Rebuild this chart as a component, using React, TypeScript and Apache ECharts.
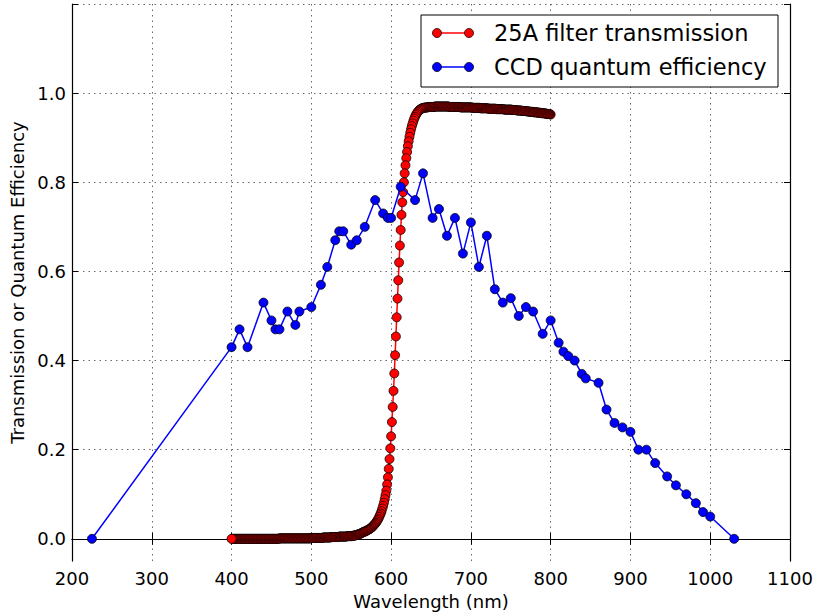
import React, { useEffect, useRef } from "react";
import * as echarts from "echarts";

// CCD quantum efficiency samples (wavelength in nm, QE fraction)
const QE_WAVELENGTHS = [
  225, 400, 410, 420, 440, 450, 455, 460, 470, 480,
  485, 500, 512, 520, 530, 535, 540, 550, 557, 567,
  580, 590, 596, 600, 612, 630, 640, 652, 660, 670,
  680, 690, 700, 710, 720, 730, 740, 750, 760, 769,
  778, 790, 800, 810, 816, 822, 830, 839, 844, 860,
  870, 880, 890, 900, 910, 920, 931, 946, 957, 970,
  982, 991, 1000, 1030,
];
const QE_VALUES = [
  0, 0.43, 0.47, 0.43, 0.53, 0.49, 0.47, 0.47, 0.51, 0.48,
  0.51, 0.52, 0.57, 0.61, 0.67, 0.69, 0.69, 0.66, 0.67, 0.7,
  0.76, 0.73, 0.72, 0.72, 0.79, 0.76, 0.82, 0.72, 0.74, 0.68,
  0.72, 0.64, 0.71, 0.61, 0.68, 0.56, 0.53, 0.54, 0.5, 0.52,
  0.51, 0.46, 0.49, 0.44, 0.42, 0.41, 0.4, 0.37, 0.36, 0.35,
  0.29, 0.26, 0.25, 0.24, 0.2, 0.2, 0.17, 0.14, 0.12, 0.1,
  0.08, 0.06, 0.05, 0,
];

// 25A filter transmission, sampled every 1 nm starting at 400 nm
const FILTER_START_NM = 400;
const FILTER_STEP_NM = 1;
const FILTER_TRANSMISSION = [
  // 400
  0, 0, 0, 0, 0, 0, 0, 0, 0, 0,
  0, 0, 0, 0, 0, 0, 0, 0, 0, 0,
  0, 0, 0, 0, 0, 0, 0, 0, 0, 0,
  0, 0, 0, 0, 0, 0, 0, 0, 0, 0,
  0, 0, 0, 0, 0, 0, 0, 0, 0, 0,
  0, 0, 0, 0, 0, 0, 0, 0, 0, 0,
  // 460
  0.001, 0.001, 0.001, 0.001, 0.001, 0.001, 0.001, 0.001, 0.001, 0.001,
  0.001, 0.001, 0.001, 0.001, 0.001, 0.001, 0.001, 0.001, 0.001, 0.001,
  0.001, 0.001, 0.001, 0.001, 0.001, 0.001, 0.001, 0.001, 0.001, 0.001,
  0.001, 0.001, 0.001, 0.001, 0.001, 0.001, 0.001, 0.001, 0.001, 0.001,
  // 500
  0.002, 0.002, 0.002, 0.002, 0.002, 0.002, 0.002, 0.002, 0.002, 0.002,
  0.002, 0.002, 0.002, 0.002, 0.002, 0.003, 0.003, 0.003, 0.003, 0.003,
  0.003, 0.003, 0.003, 0.003, 0.003, 0.004, 0.004, 0.004, 0.004, 0.004,
  0.004, 0.004, 0.004, 0.004, 0.004, 0.005, 0.005, 0.005, 0.005, 0.005,
  0.005, 0.005, 0.005, 0.005, 0.005, 0.006, 0.006, 0.006, 0.006, 0.006,
  // 550
  0.006, 0.006, 0.007, 0.007, 0.007, 0.008, 0.008, 0.009, 0.009, 0.01,
  0.011, 0.011, 0.012, 0.013, 0.014, 0.015, 0.016, 0.016, 0.017, 0.018,
  0.019, 0.02, 0.021, 0.022, 0.023, 0.025, 0.026, 0.028, 0.03, 0.032,
  0.034, 0.036, 0.039, 0.042, 0.045, 0.049, 0.053, 0.057, 0.062, 0.068,
  0.074, 0.081, 0.089, 0.098, 0.108, 0.122, 0.138, 0.157, 0.179, 0.203,
  // 600
  0.23, 0.262, 0.296, 0.332, 0.371, 0.412, 0.454, 0.497, 0.539, 0.58,
  0.62, 0.658, 0.693, 0.727, 0.755, 0.778, 0.8, 0.82, 0.838, 0.854,
  0.868, 0.881, 0.892, 0.902, 0.911, 0.919, 0.926, 0.932, 0.938, 0.943,
  0.947, 0.951, 0.954, 0.957, 0.959, 0.961, 0.963, 0.964, 0.965, 0.966,
  0.967, 0.967, 0.967, 0.968, 0.968, 0.968, 0.968, 0.969, 0.969, 0.969,
  // 650
  0.969, 0.969, 0.969, 0.969, 0.969, 0.97, 0.97, 0.97, 0.97, 0.97,
  0.97, 0.97, 0.97, 0.97, 0.97, 0.97, 0.97, 0.97, 0.97, 0.97,
  0.97, 0.97, 0.97, 0.969, 0.969, 0.969, 0.969, 0.969, 0.969, 0.969,
  0.969, 0.969, 0.969, 0.969, 0.969, 0.969, 0.969, 0.968, 0.968, 0.968,
  0.968, 0.968, 0.968, 0.968, 0.968, 0.968, 0.968, 0.968, 0.968, 0.968,
  // 700
  0.968, 0.968, 0.967, 0.967, 0.967, 0.967, 0.967, 0.967, 0.967, 0.967,
  0.967, 0.967, 0.966, 0.966, 0.966, 0.966, 0.966, 0.966, 0.966, 0.966,
  0.966, 0.966, 0.965, 0.965, 0.965, 0.965, 0.965, 0.965, 0.965, 0.965,
  0.965, 0.965, 0.964, 0.964, 0.964, 0.964, 0.964, 0.964, 0.964, 0.964,
  0.964, 0.964, 0.963, 0.963, 0.963, 0.963, 0.963, 0.963, 0.963, 0.963,
  // 750
  0.963, 0.963, 0.962, 0.962, 0.962, 0.962, 0.962, 0.962, 0.961, 0.961,
  0.961, 0.961, 0.961, 0.961, 0.96, 0.96, 0.96, 0.96, 0.96, 0.96,
  0.959, 0.959, 0.959, 0.959, 0.958, 0.958, 0.958, 0.958, 0.958, 0.957,
  0.957, 0.957, 0.957, 0.957, 0.956, 0.956, 0.956, 0.956, 0.955, 0.955,
  0.955, 0.955, 0.955, 0.954, 0.954, 0.954, 0.953, 0.953, 0.953, 0.953,
  // 800
  0.952,
];

const X_MIN = 200;
const X_MAX = 1100;
const X_STEP = 100;
const Y_MIN = -0.05;
const Y_MAX = 1.2;
const Y_TICKS = [0, 0.2, 0.4, 0.6, 0.8, 1.0, 1.2];
const Y_LABELS = [0, 0.2, 0.4, 0.6, 0.8, 1.0];

const FILTER_NAME = "25A filter transmission";
const QE_NAME = "CCD quantum efficiency";
const X_TITLE = "Wavelength (nm)";
const Y_TITLE = "Transmission or Quantum Efficiency";

const FONT = "DejaVu Sans";
const RED = "#ff0000";
const BLUE = "#0000ff";

export default function App() {
  const ref = useRef<HTMLDivElement>(null);

  useEffect(() => {
    document.body.style.margin = "0";
    const chart = echarts.init(ref.current!, null, { renderer: "svg" });

    // filter curve is stroked from the long-wavelength end back to 400 nm
    const filterData = FILTER_TRANSMISSION.map((v, i) => [
      FILTER_START_NM + i * FILTER_STEP_NM,
      v,
    ]).reverse();
    const qeData = QE_WAVELENGTHS.map((w, i) => [w, QE_VALUES[i]]);

    const gridLine = {
      show: true,
      lineStyle: { color: "#444", width: 0.8, type: [1.5, 4] as any },
    };
    const frameLine = { show: true, lineStyle: { color: "#000", width: 1.2 } };
    const tickStyle = {
      show: true,
      inside: true,
      length: 6,
      lineStyle: { color: "#000", width: 1 },
    };

    const LZ = 100;
    const legendItem = (y: number, color: string, label: string) => [
      {
        type: "line",
        z: LZ + 1,
        shape: { x1: 437, y1: y, x2: 469, y2: y },
        style: { stroke: color, lineWidth: 1.5 },
      },
      {
        type: "circle",
        z: LZ + 2,
        shape: { cx: 437, cy: y, r: 4.5 },
        style: { fill: color, stroke: "#000", lineWidth: 0.75 },
      },
      {
        type: "circle",
        z: LZ + 2,
        shape: { cx: 469, cy: y, r: 4.5 },
        style: { fill: color, stroke: "#000", lineWidth: 0.75 },
      },
      {
        type: "text",
        z: LZ + 2,
        x: 494,
        y: y,
        style: {
          text: label,
          fill: "#000",
          font: `22.5px "${FONT}"`,
          verticalAlign: "middle",
          align: "left",
        },
      },
    ];

    chart.setOption({
      animation: false,
      backgroundColor: "#fff",
      textStyle: { fontFamily: FONT },
      grid: { left: 72, right: 27, top: 4, bottom: 51, containLabel: false },
      xAxis: [
        {
          type: "value",
          min: X_MIN,
          max: X_MAX,
          interval: X_STEP,
          position: "bottom",
          axisLine: frameLine,
          axisTick: tickStyle,
          splitLine: gridLine,
          axisLabel: {
            formatter: (v: number) => String(v),
            color: "#000",
            fontSize: 18,
            fontFamily: FONT,
            margin: 8,
          },
          name: X_TITLE,
          nameLocation: "middle",
          nameGap: 28,
          nameTextStyle: { color: "#000", fontSize: 18, fontFamily: FONT },
        },
        {
          type: "value",
          min: X_MIN,
          max: X_MAX,
          interval: X_STEP,
          position: "top",
          axisLine: frameLine,
          axisTick: tickStyle,
          splitLine: { show: false },
          axisLabel: { show: false },
        },
      ],
      yAxis: [
        {
          type: "value",
          min: Y_MIN,
          max: Y_MAX,
          position: "left",
          axisLine: frameLine,
          axisTick: { ...tickStyle, customValues: Y_TICKS },
          splitLine: gridLine,
          axisLabel: {
            customValues: Y_LABELS,
            formatter: (v: number) => v.toFixed(1),
            color: "#000",
            fontSize: 18,
            fontFamily: FONT,
            margin: 6,
          },
          name: Y_TITLE,
          nameLocation: "middle",
          nameRotate: 90,
          nameGap: 43,
          nameTextStyle: { color: "#000", fontSize: 18, fontFamily: FONT },
        },
        {
          type: "value",
          min: Y_MIN,
          max: Y_MAX,
          position: "right",
          axisLine: frameLine,
          axisTick: { ...tickStyle, customValues: Y_TICKS },
          splitLine: { show: false },
          axisLabel: { show: false },
        },
      ],
      series: [
        {
          name: FILTER_NAME,
          type: "line",
          xAxisIndex: 0,
          yAxisIndex: 0,
          data: filterData,
          symbol: "circle",
          symbolSize: 9,
          showSymbol: true,
          lineStyle: { color: RED, width: 1.5 },
          itemStyle: { color: RED, borderColor: "#000", borderWidth: 0.75 },
          emphasis: { disabled: true },
          z: 2,
        },
        {
          name: QE_NAME,
          type: "line",
          xAxisIndex: 0,
          yAxisIndex: 0,
          data: qeData,
          symbol: "circle",
          symbolSize: 9,
          showSymbol: true,
          lineStyle: { color: BLUE, width: 1.5 },
          itemStyle: { color: BLUE, borderColor: "#000", borderWidth: 0.75 },
          emphasis: { disabled: true },
          z: 3,
        },
      ],
      graphic: [
        {
          type: "rect",
          z: LZ,
          shape: { x: 421, y: 15, width: 357, height: 72 },
          style: { fill: "#fff", stroke: "#000", lineWidth: 1 },
        },
        ...legendItem(33, RED, FILTER_NAME),
        ...legendItem(67, BLUE, QE_NAME),
      ],
    });

    return () => chart.dispose();
  }, []);

  return <div ref={ref} style={{ width: 817, height: 615 }} />;
}
